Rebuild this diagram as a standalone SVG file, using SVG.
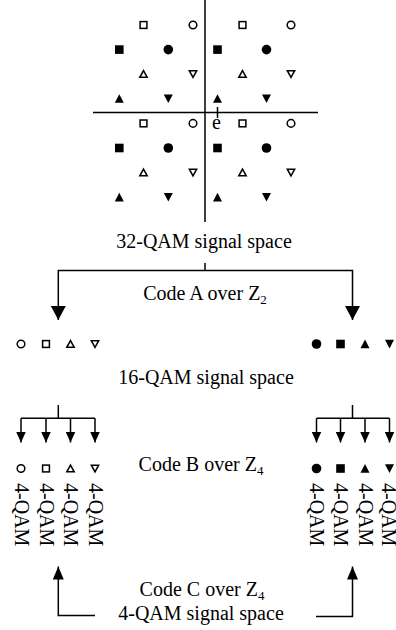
<svg xmlns="http://www.w3.org/2000/svg" width="396" height="630" viewBox="0 0 396 630">
  <style>
    .ln { stroke: #000; stroke-width: 1.5; fill: none; }
    .t { font-family: "Liberation Serif", "Times New Roman", serif; font-size: 20px; fill: #000; }
    .mid { text-anchor: middle; }
    .o { fill: #fff; stroke: #000; stroke-width: 1.5; }
    .f { fill: #000; }
  </style>
  <defs>
    <marker id="headL" markerUnits="userSpaceOnUse" viewBox="0 0 14 15" refX="14" refY="7.5" markerWidth="14" markerHeight="15" orient="auto-start-reverse">
      <path d="M0,0 L14,7.5 L0,15 Z" fill="#000"/>
    </marker>
    <marker id="headS" markerUnits="userSpaceOnUse" viewBox="0 0 11 10" refX="11" refY="5" markerWidth="11" markerHeight="10" orient="auto">
      <path d="M0,0 L11,5 L0,10 Z" fill="#000"/>
    </marker>
    <marker id="headM" markerUnits="userSpaceOnUse" viewBox="0 0 13 11" refX="13" refY="5.5" markerWidth="13" markerHeight="11" orient="auto">
      <path d="M0,0 L13,5.5 L0,11 Z" fill="#000"/>
    </marker>
    <!-- signal point glyphs -->
    <circle id="oc" r="3.8" class="o"/>
    <circle id="fc" r="4.8" class="f"/>
    <rect id="os" x="-3.4" y="-3.4" width="6.8" height="6.8" class="o"/>
    <rect id="fs" x="-4.3" y="-4.3" width="8.6" height="8.6" class="f"/>
    <path id="ot" d="M0,-3.4 L3.7,3.3 L-3.7,3.3 Z" class="o"/>
    <path id="od" d="M0,3.4 L3.7,-3.3 L-3.7,-3.3 Z" class="o"/>
    <path id="ft" d="M0,-4.4 L4.5,4.2 L-4.5,4.2 Z" class="f"/>
    <path id="fd" d="M0,4.4 L4.5,-4.2 L-4.5,-4.2 Z" class="f"/>
  </defs>
  <rect width="396" height="630" fill="#fff"/>

  <!-- 32-QAM constellation -->
  <g id="space32">
    <line class="ln" x1="205" y1="0" x2="205" y2="222"/>
    <line class="ln" x1="93" y1="112.5" x2="318" y2="112.5"/>
    <line class="ln" x1="217.5" y1="107" x2="217.5" y2="118"/>
    <text class="t mid" x="216.5" y="128.5">e</text>
    <g id="rows-upper">
      <use href="#os" x="143.5" y="25"/><use href="#oc" x="193" y="25"/><use href="#os" x="242.5" y="25"/><use href="#oc" x="291" y="25"/>
      <use href="#fs" x="119.3" y="49.6"/><use href="#fc" x="168.3" y="49.6"/><use href="#fs" x="217.5" y="49.6"/><use href="#fc" x="266.5" y="49.6"/>
      <use href="#ot" x="143.5" y="74"/><use href="#od" x="193" y="74"/><use href="#ot" x="242.5" y="74"/><use href="#od" x="291" y="74"/>
      <use href="#ft" x="119.3" y="98.6"/><use href="#fd" x="168.3" y="98.6"/><use href="#ft" x="217.5" y="98.6"/><use href="#fd" x="266.5" y="98.6"/>
    </g>
    <g id="rows-lower">
      <use href="#os" x="143.5" y="123.4"/><use href="#oc" x="193" y="123.4"/><use href="#os" x="242.5" y="123.4"/><use href="#oc" x="291" y="123.4"/>
      <use href="#fs" x="119.3" y="148"/><use href="#fc" x="168.3" y="148"/><use href="#fs" x="217.5" y="148"/><use href="#fc" x="266.5" y="148"/>
      <use href="#ot" x="143.5" y="172.5"/><use href="#od" x="193" y="172.5"/><use href="#ot" x="242.5" y="172.5"/><use href="#od" x="291" y="172.5"/>
      <use href="#ft" x="119.3" y="197.2"/><use href="#fd" x="168.3" y="197.2"/><use href="#ft" x="217.5" y="197.2"/><use href="#fd" x="266.5" y="197.2"/>
    </g>
  </g>

  <g id="label32">
    <text class="t mid" x="204" y="248">32-QAM signal space</text>
  </g>

  <g id="codeA">
    <text class="t mid" x="205" y="300">Code A over Z<tspan font-size="13" dy="4">2</tspan></text>
  </g>

  <g id="set16-left">
    <use href="#oc" x="21" y="344"/><use href="#os" x="46" y="344"/><use href="#ot" x="70.5" y="344"/><use href="#od" x="95" y="344"/>
  </g>
  <g id="set16-right">
    <use href="#fc" x="316.5" y="344"/><use href="#fs" x="340.5" y="344"/><use href="#ft" x="365" y="344"/><use href="#fd" x="389.5" y="344"/>
  </g>

  <g id="label16">
    <text class="t mid" x="206" y="384">16-QAM signal space</text>
  </g>

  <g id="set4-left">
    <use href="#oc" x="21" y="468.5"/><use href="#os" x="46" y="468.5"/><use href="#ot" x="70.5" y="468.5"/><use href="#od" x="95" y="468.5"/>
    <text class="t" transform="translate(14.5,483) rotate(90)">4-QAM</text>
    <text class="t" transform="translate(39.5,483) rotate(90)">4-QAM</text>
    <text class="t" transform="translate(64,483) rotate(90)">4-QAM</text>
    <text class="t" transform="translate(88.5,483) rotate(90)">4-QAM</text>
  </g>
  <g id="set4-right">
    <use href="#fc" x="316.5" y="468.5"/><use href="#fs" x="340.5" y="468.5"/><use href="#ft" x="365" y="468.5"/><use href="#fd" x="389.5" y="468.5"/>
    <text class="t" transform="translate(310,483) rotate(90)">4-QAM</text>
    <text class="t" transform="translate(334,483) rotate(90)">4-QAM</text>
    <text class="t" transform="translate(358.5,483) rotate(90)">4-QAM</text>
    <text class="t" transform="translate(382,483) rotate(90)">4-QAM</text>
  </g>

  <g id="codeB">
    <text class="t mid" x="201" y="471">Code B over Z<tspan font-size="13" dy="4">4</tspan></text>
  </g>

  <g id="codeC">
    <text class="t mid" x="202" y="596">Code C over Z<tspan font-size="13" dy="4">4</tspan></text>
    <text class="t mid" x="201" y="620">4-QAM signal space</text>
  </g>

  <g id="connectors">
    <!-- 32-QAM split into two 16-QAM subsets -->
    <path class="ln" d="M205,263 V270.5"/>
    <path class="ln" d="M58.3,320 V270.5 H352.5 V320" marker-start="url(#headL)" marker-end="url(#headL)"/>
    <!-- 16-QAM subsets into 4-QAM cosets -->
    <path class="ln" d="M58.3,405 V418.3"/>
    <path class="ln" d="M21,418.3 H95"/>
    <path class="ln" d="M21,418.3 V442.5" marker-end="url(#headS)"/>
    <path class="ln" d="M46,418.3 V442.5" marker-end="url(#headS)"/>
    <path class="ln" d="M70.5,418.3 V442.5" marker-end="url(#headS)"/>
    <path class="ln" d="M95,418.3 V442.5" marker-end="url(#headS)"/>
    <path class="ln" d="M352.5,405 V418.3"/>
    <path class="ln" d="M316.5,418.3 H389.5"/>
    <path class="ln" d="M316.5,418.3 V442.5" marker-end="url(#headS)"/>
    <path class="ln" d="M340.5,418.3 V442.5" marker-end="url(#headS)"/>
    <path class="ln" d="M365,418.3 V442.5" marker-end="url(#headS)"/>
    <path class="ln" d="M389.5,418.3 V442.5" marker-end="url(#headS)"/>
    <!-- code C feeding both halves -->
    <path class="ln" d="M95,615.5 H58.3 V566.5" marker-end="url(#headM)"/>
    <path class="ln" d="M316,616.5 H352.5 V566.5" marker-end="url(#headM)"/>
  </g>
</svg>
